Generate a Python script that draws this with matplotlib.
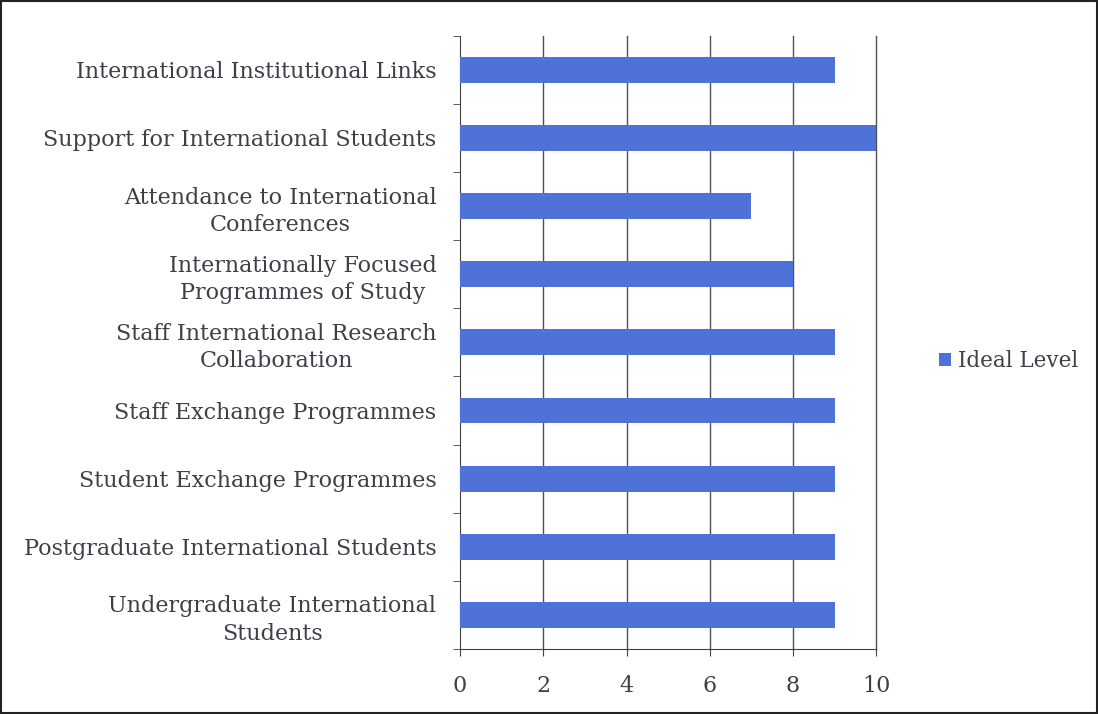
import matplotlib
matplotlib.use("Agg")
import matplotlib.pyplot as plt
from matplotlib.patches import Rectangle
import numpy as np

categories = [
    "Undergraduate International\nStudents",
    "Postgraduate International Students",
    "Student Exchange Programmes",
    "Staff Exchange Programmes",
    "Staff International Research\nCollaboration",
    "Internationally Focused\nProgrammes of Study",
    "Attendance to International\nConferences",
    "Support for International Students",
    "International Institutional Links",
]
ideal_level = [9, 9, 9, 9, 9, 8, 7, 10, 9]
series_name = "Ideal Level"
x_ticks = [0, 2, 4, 6, 8, 10]

plt.rcParams['font.family'] = ['DejaVu Serif']
text_color = '#3f3f48'

fig = plt.figure(figsize=(10.98, 7.14), dpi=100)
ax = fig.add_axes([0.419, 0.091, 0.379, 0.859])

y = np.arange(len(categories))
ax.barh(y, ideal_level, height=0.38, color='#4e72d8', label=series_name, zorder=3)

ax.set_xlim(0, 10)
ax.set_ylim(-0.5, len(categories) - 0.5)
ax.set_xticks(x_ticks)
ax.set_xticklabels([str(t) for t in x_ticks], fontsize=16, color=text_color)
ax.set_yticks(y)
ax.set_yticklabels(categories, fontsize=16, color=text_color,
                   multialignment='center', linespacing=1.3)
ax.set_yticks(np.arange(-0.5, len(categories), 1.0), minor=True)
ax.tick_params(axis='y', which='major', length=0, pad=17)
ax.tick_params(axis='y', which='minor', length=5, direction='out', color='#404040')
ax.tick_params(axis='x', which='major', length=5, direction='out', color='#404040', pad=14)
for xv in x_ticks[1:]:
    ax.axvline(xv, color='#505050', linewidth=1.0, zorder=0, clip_on=False)
for s in ['top', 'right']:
    ax.spines[s].set_visible(False)
for s in ['left', 'bottom']:
    ax.spines[s].set_color('#404040')

leg = fig.legend(loc='center left', bbox_to_anchor=(0.838, 0.494), frameon=False,
                 fontsize=15.5, handlelength=0.55, handleheight=0.55, handletextpad=0.3)
for t in leg.get_texts():
    t.set_color(text_color)

fig.patches.append(Rectangle((0.001, 0.001), 0.998, 0.998, transform=fig.transFigure,
                             fill=False, edgecolor='#222222', linewidth=1.5))

fig.savefig("out.png", dpi=100, facecolor='white')
